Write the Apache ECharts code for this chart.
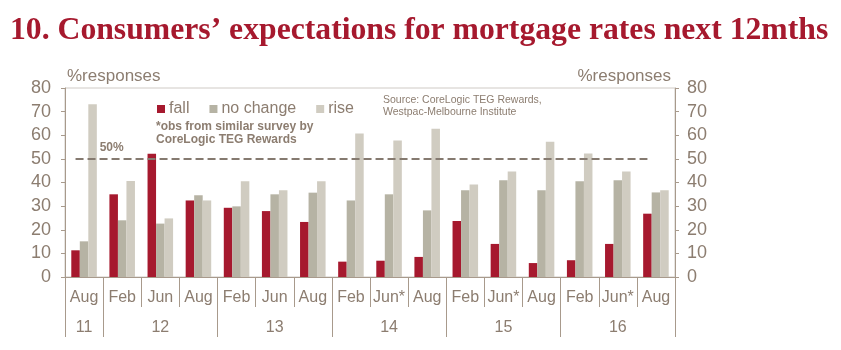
<!DOCTYPE html>
<html>
<head>
<meta charset="utf-8">
<script src="https://cdn.jsdelivr.net/npm/echarts@6/dist/echarts.min.js"></script>
<style>
html, body { margin: 0; padding: 0; background: #fff; }
#chart { width: 841px; height: 350px; }
</style>
</head>
<body>
<div id="chart"></div>
<script>
var months = ['Aug', 'Feb', 'Jun', 'Aug', 'Feb', 'Jun', 'Aug', 'Feb', 'Jun*', 'Aug', 'Feb', 'Jun*', 'Aug', 'Feb', 'Jun*', 'Aug'];
var years = ['11', '12', '13', '14', '15', '16'];
var yearLabelPos = [0.5, 2.5, 5.5, 8.5, 11.5, 14.5];
var yearBounds = [0, 1, 4, 7, 10, 13, 16];
var fall = [11.3, 35, 52.2, 32.4, 29.3, 27.9, 23.3, 6.5, 6.9, 8.5, 23.7, 14, 5.9, 7.1, 14, 26.8];
var noChange = [15.1, 24, 22.6, 34.6, 29.9, 35, 35.7, 32.4, 35, 28.2, 36.7, 40.9, 36.7, 40.5, 40.9, 35.8];
var rise = [73.1, 40.6, 24.8, 32.4, 40.5, 36.7, 40.5, 60.7, 57.8, 62.8, 39.2, 44.7, 57.3, 52.3, 44.7, 36.7];

var txt = '#8c7d70';
var axisCol = '#a89a8c';
var font = 'Liberation Sans';

var dom = document.getElementById('chart');
var myChart = echarts.init(dom);
var option = {
    animation: false,
    textStyle: { fontFamily: font },
    legend: {
        left: 152,
        top: 96,
        itemWidth: 8,
        itemHeight: 8,
        itemGap: 20,
        icon: 'rect',
        textStyle: { color: txt, fontSize: 16, fontFamily: font, padding: [0, 0, 0, -1] },
        data: ['fall', 'no change', 'rise']
    },
    grid: {
        left: 65,
        right: 166,
        top: 88,
        bottom: 73,
        show: true,
        borderColor: '#cfcac5',
        borderWidth: 1
    },
    xAxis: [
        {
            type: 'category',
            data: months,
            axisLine: { lineStyle: { color: axisCol } },
            axisTick: { show: true, length: 30, interval: 0, lineStyle: { color: axisCol } },
            axisLabel: { interval: 0, color: txt, fontSize: 16, margin: 13 }
        },
        {
            type: 'value',
            position: 'bottom',
            min: 0,
            max: 16,
            axisLine: { show: false },
            splitLine: { show: false },
            axisTick: { show: true, length: 60, customValues: yearBounds, lineStyle: { color: axisCol } },
            axisLabel: {
                customValues: yearLabelPos,
                color: txt,
                fontSize: 16,
                margin: 43,
                formatter: function (v) {
                    var i = yearLabelPos.indexOf(v);
                    return i >= 0 ? years[i] : '';
                }
            }
        }
    ],
    yAxis: [
        {
            type: 'value',
            min: 0,
            max: 80,
            interval: 10,
            position: 'left',
            name: '%responses',
            nameLocation: 'end',
            nameGap: 3,
            nameTextStyle: { color: txt, fontSize: 17, align: 'left', verticalAlign: 'bottom', padding: [0, 0, 0, 2] },
            axisLine: { show: true, lineStyle: { color: axisCol } },
            axisTick: { show: true, length: 4, lineStyle: { color: axisCol } },
            axisLabel: { color: txt, fontSize: 18, margin: 14 },
            splitLine: { show: false }
        },
        {
            type: 'value',
            min: 0,
            max: 80,
            interval: 10,
            position: 'right',
            name: '%responses',
            nameLocation: 'end',
            nameGap: 3,
            nameTextStyle: { color: txt, fontSize: 17, align: 'right', verticalAlign: 'bottom', padding: [0, 4, 0, 0] },
            axisLine: { show: true, lineStyle: { color: axisCol } },
            axisTick: { show: true, length: 4, lineStyle: { color: axisCol } },
            axisLabel: { color: txt, fontSize: 18, margin: 12 },
            splitLine: { show: false }
        }
    ],
    graphic: [
        {
            // title, squeezed a little to match the condensed serif of the original
            type: 'text',
            x: 10,
            y: 15,
            scaleX: 0.99,
            style: {
                text: '10. Consumers\u2019 expectations for mortgage rates next 12mths',
                fill: '#a6192e',
                font: 'bold 32px Liberation Serif'
            }
        },
        {
            type: 'text',
            left: 156,
            top: 120,
            style: {
                text: '*obs from similar survey by\nCoreLogic TEG Rewards',
                fill: txt,
                font: 'bold 12px Liberation Sans',
                lineHeight: 13
            }
        },
        {
            type: 'text',
            left: 383,
            top: 94,
            style: {
                text: 'Source: CoreLogic TEG Rewards,\nWestpac-Melbourne Institute',
                fill: txt,
                font: '10.5px Liberation Sans',
                lineHeight: 12
            }
        }
    ],
    series: [
        {
            name: 'fall',
            type: 'bar',
            data: fall,
            barGap: '0%',
            barCategoryGap: '33%',
            itemStyle: { color: '#a6192e' },
            markLine: {
                silent: true,
                symbol: 'none',
                label: { show: false },
                lineStyle: { color: '#857a70', width: 2, type: [8, 4] },
                data: [[{ coord: [0, 50] }, { coord: [15, 50] }]]
            },
            markPoint: {
                symbol: 'rect',
                symbolSize: 0,
                label: { show: true, formatter: '50%', color: txt, fontWeight: 'bold', fontSize: 12, offset: [-2, -11] },
                data: [{ coord: [1, 50] }]
            }
        },
        {
            name: 'no change',
            type: 'bar',
            data: noChange,
            itemStyle: { color: '#b6b3a4' }
        },
        {
            name: 'rise',
            type: 'bar',
            data: rise,
            itemStyle: { color: '#d0ccc1' }
        }
    ]
};
myChart.setOption(option, true);
</script>
</body>
</html>
